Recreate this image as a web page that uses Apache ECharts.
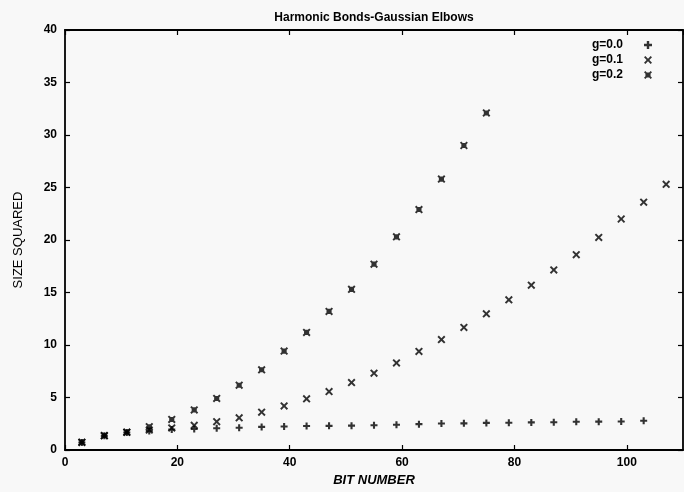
<!DOCTYPE html>
<html>
<head>
<meta charset="utf-8">
<script src="https://cdn.jsdelivr.net/npm/echarts@6/dist/echarts.min.js"></script>
<style>
html,body{margin:0;padding:0;background:#f8f8f8;}
#chart{width:684px;height:492px;}
</style>
</head>
<body>
<div id="chart"></div>
<script>
var bitNumbers = [3,7,11,15,19,23,27,31,35,39,43,47,51,55,59,63,67,71,75,79,83,87,91,95,99,103,107];
var g00 = [0.72,1.35,1.66,1.8,1.95,2.0,2.07,2.12,2.2,2.24,2.28,2.3,2.32,2.36,2.41,2.46,2.52,2.54,2.58,2.6,2.63,2.65,2.69,2.7,2.72,2.78];
var g01 = [0.72,1.35,1.68,1.9,2.1,2.35,2.7,3.07,3.6,4.2,4.87,5.57,6.42,7.32,8.29,9.39,10.52,11.67,12.97,14.3,15.7,17.15,18.6,20.25,22.0,23.6,25.3];
var g02 = [0.75,1.38,1.7,2.22,2.91,3.82,4.91,6.17,7.64,9.42,11.2,13.2,15.3,17.7,20.3,22.9,25.8,29.0,32.1];
var seriesNames = ['g=0.0','g=0.1','g=0.2'];
var xTicks = [0,20,40,60,80,100];
var yTicks = [0,5,10,15,20,25,30,35,40];

function pairs(vals){ return vals.map(function(v,i){ return [bitNumbers[i], v]; }); }

var plusPath = 'path://M3.5,0 H6.5 V3.5 H10 V6.5 H6.5 V10 H3.5 V6.5 H0 V3.5 H3.5 Z';
var crossPath = 'path://M0,1.7 L1.7,0 L5,3.3 L8.3,0 L10,1.7 L6.7,5 L10,8.3 L8.3,10 L5,6.7 L1.7,10 L0,8.3 L3.3,5 Z';
var boxCrossPath = 'path://M0,1.7 L1.7,0 L5,3.3 L8.3,0 L10,1.7 L6.7,5 L10,8.3 L8.3,10 L5,6.7 L1.7,10 L0,8.3 L3.3,5 Z M1.8,1.8 L8.2,1.8 L8.2,8.2 L1.8,8.2 Z';

var font = 'Liberation Sans, Arial, sans-serif';
var axisLine = {show:true, onZero:false, lineStyle:{color:'#000', width:1.8}};
var tick = {show:true, inside:true, length:5, lineStyle:{color:'#000', width:1.2}};

var chart = echarts.init(document.getElementById('chart'));
chart.setOption({
  backgroundColor:'#f8f8f8',
  animation:false,
  title:{
    text:'Harmonic Bonds-Gaussian Elbows',
    left:374, textAlign:'center', top:12, padding:0,
    textStyle:{fontFamily:font, fontSize:12, fontWeight:'bold', color:'#000'}
  },
  legend:{
    orient:'vertical', right:32, top:38, align:'right',
    itemWidth:8, itemHeight:8, itemGap:1, padding:0,
    textStyle:{fontFamily:font, fontSize:12, fontWeight:'bold', color:'#000', padding:[0,16,0,0], lineHeight:14},
    data:seriesNames
  },
  grid:{left:65, right:1, top:30, bottom:37},
  xAxis:[{
    type:'value', min:xTicks[0], max:110, interval:20,
    name:'BIT NUMBER', nameLocation:'middle', nameGap:24,
    nameTextStyle:{fontFamily:font, fontSize:13, fontWeight:'bold', fontStyle:'italic', color:'#000'},
    axisLine:axisLine, axisTick:tick, splitLine:{show:false},
    axisLabel:{fontFamily:font, fontSize:12, fontWeight:'bold', color:'#000', margin:7, showMaxLabel:false,
      formatter:function(v){ return xTicks.indexOf(v)>=0 ? String(v) : ''; }}
  },{
    type:'value', position:'top', min:0, max:110, interval:20,
    axisLine:axisLine, axisTick:tick, axisLabel:{show:false}, splitLine:{show:false}
  }],
  yAxis:[{
    type:'value', min:yTicks[0], max:40, interval:5,
    name:'SIZE SQUARED', nameLocation:'middle', nameGap:40, nameRotate:90,
    nameTextStyle:{fontFamily:font, fontSize:13, color:'#000'},
    axisLine:axisLine, axisTick:tick, splitLine:{show:false},
    axisLabel:{fontFamily:font, fontSize:12, fontWeight:'bold', color:'#000', margin:8}
  },{
    type:'value', position:'right', min:0, max:40, interval:5,
    axisLine:axisLine, axisTick:tick, axisLabel:{show:false}, splitLine:{show:false}
  }],
  series:[
    {name:seriesNames[0], type:'scatter', symbol:plusPath, symbolSize:7, data:pairs(g00), itemStyle:{color:'#000'}},
    {name:seriesNames[1], type:'scatter', symbol:crossPath, symbolSize:8, data:pairs(g01), itemStyle:{color:'#000'}},
    {name:seriesNames[2], type:'scatter', symbol:boxCrossPath, symbolSize:8, data:pairs(g02), itemStyle:{color:'#000'}}
  ]
});
</script>
</body>
</html>
